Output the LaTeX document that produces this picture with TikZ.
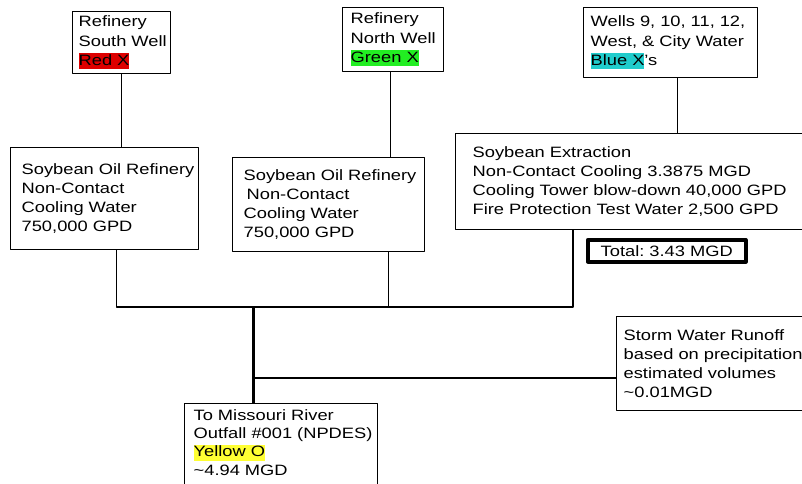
\documentclass[tikz,border=0pt]{standalone}
\usepackage{fontspec}
\setmainfont{Liberation Sans}[FakeStretch=1.22]
\usepackage{xcolor}
\definecolor{hlred}{HTML}{DD0000}
\definecolor{hlgreen}{HTML}{22EE22}
\definecolor{hlblue}{HTML}{20CCCC}
\definecolor{hlyellow}{HTML}{FFFF33}
\newcommand{\hilite}[2]{{\setlength{\fboxsep}{0pt}\colorbox{#1}{\rule[-4pt]{0pt}{16pt}#2}}}
\begin{document}
\frenchspacing
\begin{tikzpicture}[x=1pt, y=-1pt, line join=round,
    box/.style={draw, line width=1.3pt, anchor=north west, align=left,
      inner xsep=0pt, inner ysep=0pt, font=\fontsize{15}{19.2}\selectfont},
    pad/.style={execute at begin node={\leftskip=#1\relax}},
    pipe/.style={line width=1.3pt},
    main/.style={line width=3pt}]
  \useasboundingbox (0,0) rectangle (802,483);
  \clip (0,0) rectangle (802,483);

  % wells
  \node[box, pad=6pt, text width=98pt, minimum height=62pt] (south) at (72,11)
    {Refinery\\South Well\\\hilite{hlred}{Red X}};
  \node[box, pad=8pt, text width=101pt, minimum height=64pt] (north) at (342,7)
    {Refinery\\North Well\\\hilite{hlgreen}{Green X}};
  \node[box, pad=7pt, text width=174pt, minimum height=70pt] (city) at (583,7)
    {Wells 9, 10, 11, 12,\\West, \& City Water\\\hilite{hlblue}{Blue X}'s};

  % users
  \node[box, pad=11pt, text width=188pt, minimum height=102pt] (ref1) at (10,147)
    {Soybean Oil Refinery\\Non-Contact\\Cooling Water\\750,000 GPD};
  \node[box, pad=11pt, text width=192pt, minimum height=94pt] (ref2) at (232,157)
    {Soybean Oil Refinery\\\hspace{3pt}Non-Contact\\Cooling Water\\750,000 GPD};
  \node[box, pad=17pt, text width=360pt, minimum height=96pt] (extr) at (455,133)
    {Soybean Extraction\\Non-Contact Cooling 3.3875 MGD\\Cooling Tower blow-down 40,000 GPD\\Fire Protection Test Water 2,500 GPD};
  \node[box, line width=3.5pt, align=center, text width=158pt, minimum height=22pt] (total) at (586,238)
    {Total: 3.43 MGD};

  % outfall and runoff (outfall box runs off the bottom edge)
  \node[box, pad=9pt, inner ysep=6pt, text width=193pt,
    font=\fontsize{15}{18.2}\selectfont] (river) at (184,403)
    {To Missouri River\\Outfall \#001 (NPDES)\\\hilite{hlyellow}{Yellow O}\\\textasciitilde4.94 MGD\\\rule[-3pt]{0pt}{4pt}};
  \node[box, pad=7pt, text width=200pt, minimum height=94pt] (storm) at (616,316)
    {Storm Water Runoff\\based on precipitation\\estimated volumes\\\textasciitilde0.01MGD};

  \coordinate (join) at (253,307);
  \coordinate (tee) at (253,378);

  \draw[pipe] (south.south) -- (south.south |- ref1.north);
  \draw[pipe] ([xshift=-3pt]north.south) -- ([xshift=-3pt]north.south |- ref2.north);
  \draw[pipe] ([xshift=7pt]city.south) -- ([xshift=7pt]city.south |- extr.north);

  \draw[pipe] ([xshift=12pt]ref1.south) |- (join);
  \draw[pipe] ([xshift=60pt]ref2.south) |- (join);
  \draw[pipe] ([xshift=118pt]extr.south west) |- (join);
  \draw[main] (join) -- (join |- river.north);
  \draw[pipe] (tee) -- (tee -| storm.west);
\end{tikzpicture}
\end{document}
